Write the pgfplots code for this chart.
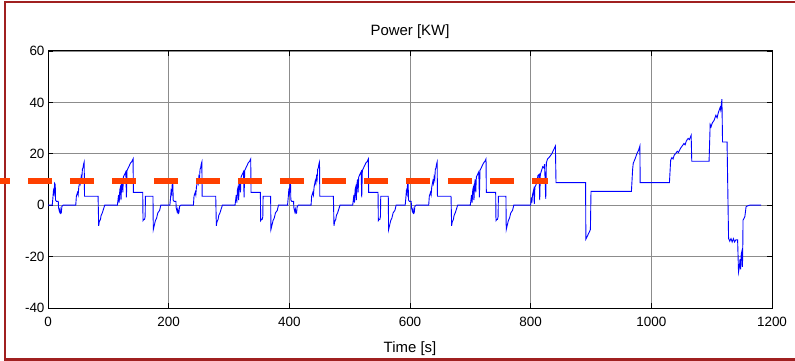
\documentclass[border=0pt]{standalone}
\usepackage{fontspec}
\setmainfont{Liberation Sans}
\usepackage{pgfplots}
\pgfplotsset{compat=1.18}
\definecolor{framered}{RGB}{160,32,32}
\definecolor{dashred}{RGB}{255,64,0}
\begin{document}
\begin{tikzpicture}
\useasboundingbox (0,0) rectangle (795bp,361bp);
\draw[framered, line width=2bp] (5bp,1.5bp) rectangle (800bp,358.5bp);
\begin{axis}[
  at={(48bp,53bp)}, anchor=south west,
  scale only axis, width=724bp, height=257bp,
  xmin=0, xmax=1200, ymin=-40, ymax=60,
  xtick={0,200,400,600,800,1000,1200},
  xticklabels={0,200,400,600,800,1000,1200},
  ytick={-40,-20,0,20,40,60},
  yticklabels={-40,-20,0,20,40,60},
  grid=major,
  grid style={black!45, line width=0.8bp},
  axis line style={black, line width=1bp},
  tick style={black, line width=0.8bp},
  major tick length=5bp,
  tick align=inside,
  tick pos=both,
  ticklabel style={font=\fontsize{13.5}{15}\selectfont},
  xticklabel style={yshift=-6bp},
  every axis title shift=0pt,
  title={Power [KW]},
  title style={at={(0.5,1)}, anchor=center, yshift=19bp, inner sep=0pt, font=\fontsize{15}{17}\selectfont},
  xlabel={Time [s]},
  xlabel style={at={(0.5,0)}, anchor=center, yshift=-41bp, inner sep=0pt, font=\fontsize{15}{17}\selectfont},
  clip=false,
]
\addplot[blue, line width=0.9bp] coordinates {
(0,0) (7,0) (8,2.5) (9,5.5) (10,4.5) (11,8.5) (12,8) (12.5,2) (14,1.5) (17,1.5) (17.5,-1) (19,-2.5) (20,-1.5) (21,-3.2) (22,-3) (23,-0.5) (25,0) (46,0) (47,3.5) (49,5) (50,4) (51,7) (53,9.5) (54,8.5) (55,11) (56,10) (57,14) (58,14.5) (59,16) (60,16.8) (60.5,3.5) (83,3.5) (84,-8) (85,-6.5) (87,-5.5) (88,-4) (90,-3) (92,-1.5) (94,0) (115,0) (116,2) (117,4) (118,1) (119,6) (120,7) (121,2) (122,8) (123,10) (124,5) (125,11) (127,12) (128,12.5) (129,13) (130,3) (131,13.5) (133,14.5) (135,15.5) (137,16.5) (139,17) (141,18) (141.5,5) (157,5) (157.5,-6) (159,-5.5) (160,-5.5) (161,-4.5) (161.5,3.5) (174,3.5) (174.5,-9.5) (176,-8) (178,-6) (180,-5) (182,-3) (185,-2) (187,0)
(195,0) (202,0) (203,2.5) (204,5.5) (205,4.5) (206,8.5) (207,8) (207.5,2) (209,1.5) (212,1.5) (212.5,-1) (214,-2.5) (215,-1.5) (216,-3.2) (217,-3) (218,-0.5) (220,0) (241,0) (242,3.5) (244,5) (245,4) (246,7) (248,9.5) (249,8.5) (250,11) (251,10) (252,14) (253,14.5) (254,16) (255,16.8) (255.5,3.5) (278,3.5) (279,-8) (280,-6.5) (282,-5.5) (283,-4) (285,-3) (287,-1.5) (289,0) (310,0) (311,2) (312,4) (313,1) (314,6) (315,7) (316,2) (317,8) (318,10) (319,5) (320,11) (322,12) (323,12.5) (324,13) (325,3) (326,13.5) (328,14.5) (330,15.5) (332,16.5) (334,17) (336,18) (336.5,5) (352,5) (352.5,-6) (354,-5.5) (355,-5.5) (356,-4.5) (356.5,3.5) (369,3.5) (369.5,-9.5) (371,-8) (373,-6) (375,-5) (377,-3) (380,-2) (382,0)
(390,0) (397,0) (398,2.5) (399,5.5) (400,4.5) (401,8.5) (402,8) (402.5,2) (404,1.5) (407,1.5) (407.5,-1) (409,-2.5) (410,-1.5) (411,-3.2) (412,-3) (413,-0.5) (415,0) (436,0) (437,3.5) (439,5) (440,4) (441,7) (443,9.5) (444,8.5) (445,11) (446,10) (447,14) (448,14.5) (449,16) (450,16.8) (450.5,3.5) (473,3.5) (474,-8) (475,-6.5) (477,-5.5) (478,-4) (480,-3) (482,-1.5) (484,0) (505,0) (506,2) (507,4) (508,1) (509,6) (510,7) (511,2) (512,8) (513,10) (514,5) (515,11) (517,12) (518,12.5) (519,13) (520,3) (521,13.5) (523,14.5) (525,15.5) (527,16.5) (529,17) (531,18) (531.5,5) (547,5) (547.5,-6) (549,-5.5) (550,-5.5) (551,-4.5) (551.5,3.5) (564,3.5) (564.5,-9.5) (566,-8) (568,-6) (570,-5) (572,-3) (575,-2) (577,0)
(585,0) (592,0) (593,2.5) (594,5.5) (595,4.5) (596,8.5) (597,8) (597.5,2) (599,1.5) (602,1.5) (602.5,-1) (604,-2.5) (605,-1.5) (606,-3.2) (607,-3) (608,-0.5) (610,0) (631,0) (632,3.5) (634,5) (635,4) (636,7) (638,9.5) (639,8.5) (640,11) (641,10) (642,14) (643,14.5) (644,16) (645,16.8) (645.5,3.5) (668,3.5) (669,-8) (670,-6.5) (672,-5.5) (673,-4) (675,-3) (677,-1.5) (679,0) (700,0) (701,2) (702,4) (703,1) (704,6) (705,7) (706,2) (707,8) (708,10) (709,5) (710,11) (712,12) (713,12.5) (714,13) (715,3) (716,13.5) (718,14.5) (720,15.5) (722,16.5) (724,17) (726,18) (726.5,5) (742,5) (742.5,-6) (744,-5.5) (745,-5.5) (746,-4.5) (746.5,3.5) (759,3.5) (759.5,-9.5) (761,-8) (763,-6) (765,-5) (767,-3) (770,-2) (772,0)
(800,0) (801,3) (802,1) (803,4) (805,6) (806,0.5) (807,7) (809,8) (811,10) (812,11.5) (814,12) (815,2) (816,12) (818,13.5) (820,15) (822,14.5) (823,16) (825,2.5) (826,16.5) (828,18) (832,19) (835,20) (838,21.5) (841,23) (842,8.8) (891,8.8) (891.5,-13.2) (894,-12) (898,-10) (899,-9.5) (900,5.4) (967,5.4) (969,14) (970,16.3) (973,18) (976,20) (979,21.5) (981,23) (981.5,8.8) (1030,8.8) (1032,17.5) (1034,18.5) (1036,18) (1038,19.5) (1040,20) (1043,21) (1045,20.5) (1048,22) (1051,23) (1054,24) (1056,23.5) (1058,25) (1061,26) (1063,25.5) (1066,27.2) (1067,17.1) (1095.7,17.1) (1097.5,31.4) (1099,30.5) (1101,32) (1104,33) (1107,35) (1109,34) (1111,36) (1114,38) (1115,37) (1117,41.3) (1118,24.6) (1125.5,24.6) (1128,-12.9) (1130,-14) (1132,-13) (1134,-14.3) (1136,-13) (1138,-14.3) (1140,-13.5) (1143,-13.5) (1144.5,-26) (1146,-24) (1147,-21) (1148,-25) (1149,-19) (1150,-18) (1151,-24) (1151.5,-17.5) (1152,-5.8) (1155,-4.5) (1157,-0.6) (1160,-0.2) (1163,0) (1182,0)
};
\addplot[dashred, line width=6bp, dash pattern=on 24bp off 18bp, dash phase=14bp] coordinates {(-79.6,9.3) (828.7,9.3)};
\end{axis}
\end{tikzpicture}
\end{document}
